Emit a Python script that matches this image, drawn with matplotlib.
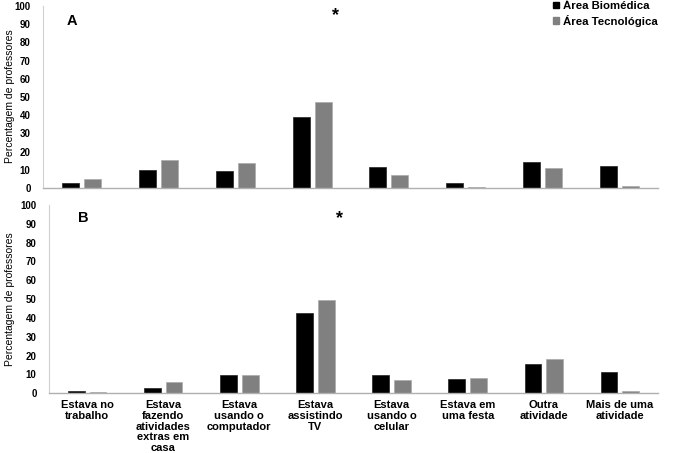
import matplotlib
matplotlib.use("Agg")
import matplotlib.pyplot as plt
from matplotlib.patches import Patch
import numpy as np

plt.rcParams['font.family'] = ['Liberation Sans', 'DejaVu Sans']

categories = ["Estava no\ntrabalho", "Estava\nfazendo\natividades\nextras em\ncasa",
              "Estava\nusando o\ncomputador", "Estava\nassistindo\nTV", "Estava\nusando o\ncelular",
              "Estava em\numa festa", "Outra\natividade", "Mais de uma\natividade"]
series_names = ["Área Biomédica", "Área Tecnológica"]
a_bio = [2.9, 9.7, 9.2, 38.8, 11.7, 2.7, 14.1, 12.1]
a_tec = [4.9, 15.2, 13.6, 47.1, 7.3, 0.5, 11.0, 1.3]
b_bio = [1.2, 2.6, 9.5, 42.6, 9.5, 7.6, 15.7, 11.5]
b_tec = [0.5, 5.8, 9.9, 49.3, 6.9, 8.1, 18.2, 1.1]
yticks = list(range(0, 101, 10))

W, H = 673, 453
fig = plt.figure(figsize=(W / 100, H / 100), dpi=100)

def px_axes(l, t, r, b):
    return fig.add_axes([l / W, 1 - b / H, (r - l) / W, (b - t) / H])

ax1 = px_axes(43, 6, 658, 188)
ax2 = px_axes(49, 205, 658, 393.3)

x = np.arange(len(categories))
bw = 0.22
off = 0.143
c_bio = "#000000"
c_tec = "#808080"

for ax, bio, tec, star_y in [(ax1, a_bio, a_tec, 95), (ax2, b_bio, b_tec, 93)]:
    ax.bar(x - off, bio, bw, color=c_bio, edgecolor="#222222", linewidth=0.5)
    ax.bar(x + off, tec, bw, color=c_tec, edgecolor="#aaaaaa", linewidth=0.5)
    ax.set_xlim(-0.5, len(categories) - 0.5)
    ax.set_ylim(0, 100)
    ax.set_yticks(yticks)
    ax.set_yticklabels([str(v) for v in yticks], fontsize=7, fontweight="bold")
    ax.tick_params(axis="y", length=0, pad=9)
    for s in ["top", "right"]:
        ax.spines[s].set_visible(False)
    ax.spines["left"].set_color("#d0d0d0")
    ax.spines["bottom"].set_color("#b0b0b0")
    ax.spines["left"].set_linewidth(0.8)
    ax.spines["bottom"].set_linewidth(1.0)
    ax.text(3.31, star_y, "*", fontsize=13, fontweight="bold", ha="center", va="center")

ax1.text(-0.12, 92, "A", fontsize=10.5, fontweight="bold", ha="center", va="center")
ax2.text(-0.05, 93, "B", fontsize=10.5, fontweight="bold", ha="center", va="center")

fig.text(10 / W, 1 - 96 / H, "Percentagem de professores", rotation=90, fontsize=7.5,
         ha="center", va="center")
fig.text(10 / W, 1 - 299 / H, "Percentagem de professores", rotation=90, fontsize=7.5,
         ha="center", va="center")

ax1.set_xticks([])
ax2.set_xticks(x)
ax2.set_xticklabels(categories, fontsize=8, fontweight="bold", linespacing=1.08)
ax2.tick_params(axis="x", length=0, pad=5)

handles = [Patch(facecolor=c_bio, edgecolor=c_bio), Patch(facecolor=c_tec, edgecolor=c_tec)]
leg = fig.legend(handles, series_names, loc="upper left", bbox_to_anchor=(543 / W, 1 + 9 / H),
                 frameon=False, handlelength=0.5, handleheight=0.5, handletextpad=0.35,
                 labelspacing=0.3, prop={"size": 8.2, "weight": "bold"})

fig.savefig("out.png", dpi=100, facecolor="white")
